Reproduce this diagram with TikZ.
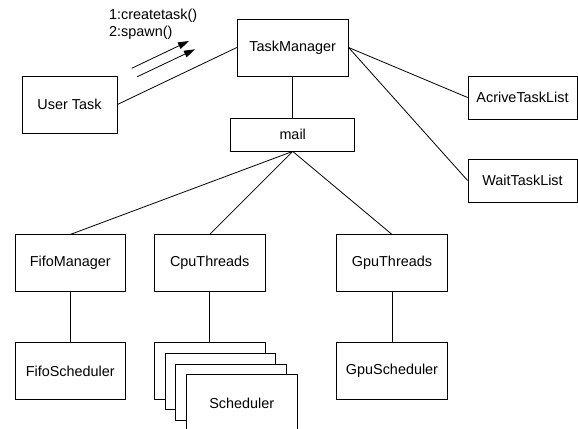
\documentclass[tikz,border=0pt]{standalone}
\usepackage{fontspec}
\setmainfont{Liberation Sans}
\usetikzlibrary{arrows.meta}
\begin{document}
\begin{tikzpicture}[x=1bp,y=-1bp,
  box/.style={draw,line width=0.8bp,fill=white,inner sep=0pt,minimum width=110.7bp,minimum height=56.3bp,font=\fontsize{14.4bp}{17bp}\selectfont},
  conn/.style={line width=0.8bp},
  msg/.style={line width=0.8bp,-{Triangle[length=11bp,width=7bp]}},
  lbl/.style={anchor=west,inner sep=0pt,font=\fontsize{14.4bp}{17bp}\selectfont}]
\useasboundingbox (0,0) rectangle (578,428);
\clip (0,0) rectangle (578,428);
\node[box,minimum width=95bp,minimum height=57bp] (user) at (69.5,104.5) {User Task};
\node[box,minimum width=111bp,minimum height=57bp] (tm) at (292.7,47.5) {TaskManager};
\node[box,minimum width=124bp,minimum height=33bp] (mail) at (292.7,134.5) {mail};
\node[box,minimum width=109bp,minimum height=43bp] (act) at (522.5,97.5) {AcriveTaskList};
\node[box,minimum width=109bp,minimum height=43bp] (wait) at (522.5,180.5) {WaitTaskList};
\node[box] (fifo) at (70.3,263) {FifoManager};
\node[box] (cpu) at (209.7,263) {CpuThreads};
\node[box] (gpu) at (392,263) {GpuThreads};
\node[box] (fifos) at (70.3,371) {FifoScheduler};
\node[box] (s1) at (209.7,371) {};
\node[box] (s2) at (220.4,381.7) {};
\node[box] (s3) at (231,392.4) {};
\node[box] (s4) at (241.7,403) {Scheduler};
\node[box] (gpus) at (392,371) {GpuScheduler};
\node[lbl] (l1) at (109,16) {1:createtask()};
\node[lbl] (l2) at (109,32.3) {2:spawn()};
\coordinate (a1s) at (131.7,68.3);
\coordinate (a1e) at (189,41);
\coordinate (a2s) at (137.3,76.7);
\coordinate (a2e) at (195,49.3);
\draw[conn] (user.east) -- (tm.west);
\draw[conn] (tm.south) -- (mail.north);
\draw[conn] (tm.east) -- (act.west);
\draw[conn] (tm.east) -- (wait.west);
\draw[conn] (mail.south) -- (fifo.north);
\draw[conn] (mail.south) -- (cpu.north);
\draw[conn] (mail.south) -- (gpu.north);
\draw[conn] (fifo.south) -- (fifos.north);
\draw[conn] (cpu.south) -- (s1.north);
\draw[conn] (gpu.south) -- (gpus.north);
\draw[msg] (a1s) -- (a1e);
\draw[msg] (a2s) -- (a2e);
\end{tikzpicture}
\end{document}
